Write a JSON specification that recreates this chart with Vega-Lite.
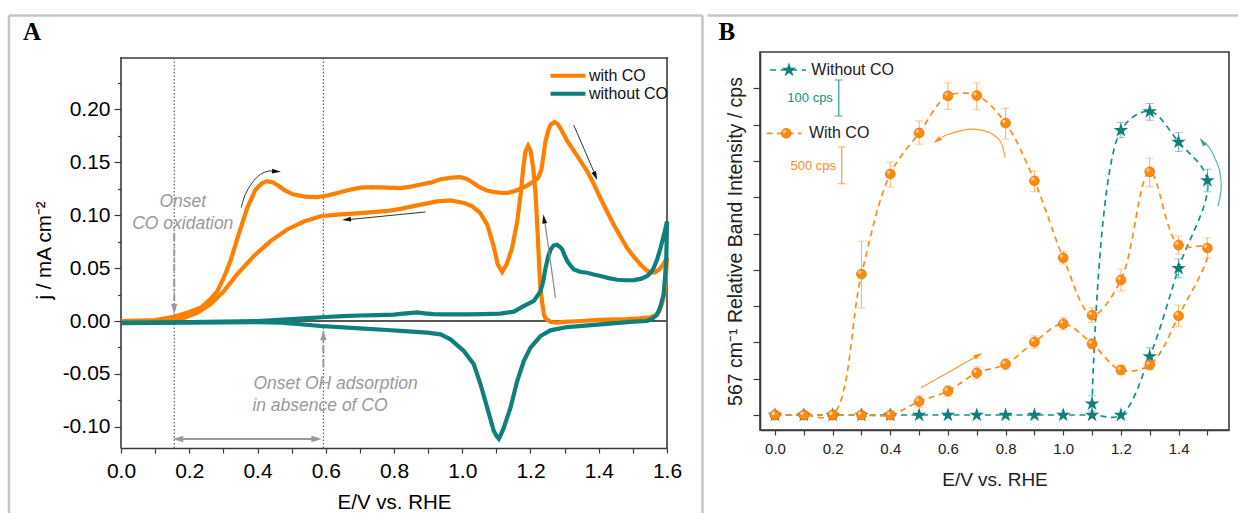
{
"$schema":"https://vega.github.io/schema/vega-lite/v6.json",
"padding":{"left":7,"top":13,"right":0,"bottom":0},
"background":"white",
"config":{
 "font":"Liberation Sans",
 "view":{"stroke":"#3a3a3a","strokeWidth":1.6},
 "axis":{"grid":false,"labelFont":"Liberation Sans","titleFont":"Liberation Sans","titleFontWeight":"normal","domainColor":"#3a3a3a","domainWidth":1.6,"tickColor":"#3a3a3a","tickWidth":1.2,"labelColor":"#000","titleColor":"#000","labelFlush":false,"labelOverlap":false,"labelBound":false}
},
"datasets":{
 "cvo":[{"E":0,"j":0},{"E":0.05,"j":0.0003},{"E":0.1,"j":0.0008},{"E":0.155,"j":0.004},{"E":0.2,"j":0.0085},{"E":0.233,"j":0.0125},{"E":0.26,"j":0.02},{"E":0.282,"j":0.028},{"E":0.3,"j":0.04},{"E":0.321,"j":0.057},{"E":0.345,"j":0.082},{"E":0.37,"j":0.107},{"E":0.394,"j":0.124},{"E":0.412,"j":0.13},{"E":0.428,"j":0.1322},{"E":0.445,"j":0.131},{"E":0.458,"j":0.1285},{"E":0.48,"j":0.1235},{"E":0.506,"j":0.1195},{"E":0.54,"j":0.1175},{"E":0.575,"j":0.117},{"E":0.61,"j":0.119},{"E":0.634,"j":0.121},{"E":0.67,"j":0.124},{"E":0.702,"j":0.126},{"E":0.74,"j":0.1265},{"E":0.78,"j":0.126},{"E":0.819,"j":0.1255},{"E":0.85,"j":0.127},{"E":0.878,"j":0.129},{"E":0.91,"j":0.131},{"E":0.936,"j":0.134},{"E":0.97,"j":0.1355},{"E":0.995,"j":0.136},{"E":1.015,"j":0.134},{"E":1.035,"j":0.13},{"E":1.053,"j":0.126},{"E":1.075,"j":0.123},{"E":1.092,"j":0.122},{"E":1.115,"j":0.121},{"E":1.132,"j":0.121},{"E":1.15,"j":0.1225},{"E":1.171,"j":0.125},{"E":1.19,"j":0.128},{"E":1.21,"j":0.132},{"E":1.222,"j":0.135},{"E":1.232,"j":0.143},{"E":1.244,"j":0.17},{"E":1.252,"j":0.18},{"E":1.259,"j":0.1855},{"E":1.27,"j":0.188},{"E":1.28,"j":0.186},{"E":1.288,"j":0.182},{"E":1.298,"j":0.176},{"E":1.308,"j":0.17},{"E":1.337,"j":0.156},{"E":1.366,"j":0.1415},{"E":1.385,"j":0.13},{"E":1.405,"j":0.116},{"E":1.425,"j":0.103},{"E":1.444,"j":0.091},{"E":1.465,"j":0.079},{"E":1.483,"j":0.069},{"E":1.502,"j":0.061},{"E":1.522,"j":0.0535},{"E":1.54,"j":0.048},{"E":1.552,"j":0.0458},{"E":1.565,"j":0.046},{"E":1.578,"j":0.049},{"E":1.59,"j":0.054},{"E":1.6,"j":0.06},{"E":1.597,"j":0.042},{"E":1.593,"j":0.028},{"E":1.586,"j":0.017},{"E":1.577,"j":0.009},{"E":1.565,"j":0.005},{"E":1.55,"j":0.0035},{"E":1.52,"j":0.0025},{"E":1.48,"j":0.0018},{"E":1.4,"j":0.001},{"E":1.35,"j":0},{"E":1.3,"j":-0.0008},{"E":1.278,"j":-0.0015},{"E":1.26,"j":-0.001},{"E":1.25,"j":0.001},{"E":1.243,"j":0.003},{"E":1.239,"j":0.007},{"E":1.234,"j":0.018},{"E":1.229,"j":0.031},{"E":1.225,"j":0.055},{"E":1.221,"j":0.082},{"E":1.215,"j":0.12},{"E":1.208,"j":0.145},{"E":1.2,"j":0.161},{"E":1.193,"j":0.1655},{"E":1.185,"j":0.16},{"E":1.179,"j":0.145},{"E":1.171,"j":0.1195},{"E":1.161,"j":0.094},{"E":1.146,"j":0.069},{"E":1.13,"j":0.0535},{"E":1.117,"j":0.0465},{"E":1.104,"j":0.0535},{"E":1.091,"j":0.072},{"E":1.073,"j":0.091},{"E":1.053,"j":0.102},{"E":1.029,"j":0.1085},{"E":1.005,"j":0.1115},{"E":0.966,"j":0.114},{"E":0.927,"j":0.113},{"E":0.878,"j":0.11},{"E":0.819,"j":0.106},{"E":0.78,"j":0.104},{"E":0.702,"j":0.102},{"E":0.634,"j":0.1006},{"E":0.585,"j":0.099},{"E":0.536,"j":0.094},{"E":0.487,"j":0.0865},{"E":0.438,"j":0.0755},{"E":0.389,"j":0.0613},{"E":0.34,"j":0.044},{"E":0.301,"j":0.028},{"E":0.262,"j":0.0157},{"E":0.223,"j":0.0078},{"E":0.184,"j":0.003},{"E":0.125,"j":0.0006},{"E":0.05,"j":0},{"E":0,"j":-0.0005}],
 "cvt":[{"E":0,"j":-0.0015},{"E":0.1,"j":-0.0012},{"E":0.2,"j":-0.001},{"E":0.3,"j":-0.0006},{"E":0.4,"j":0},{"E":0.45,"j":0.0008},{"E":0.5,"j":0.0017},{"E":0.55,"j":0.0028},{"E":0.6,"j":0.0038},{"E":0.65,"j":0.0046},{"E":0.7,"j":0.0052},{"E":0.75,"j":0.0056},{"E":0.8,"j":0.006},{"E":0.819,"j":0.0068},{"E":0.845,"j":0.0075},{"E":0.868,"j":0.0082},{"E":0.89,"j":0.0072},{"E":0.917,"j":0.0065},{"E":0.95,"j":0.0063},{"E":1.015,"j":0.0063},{"E":1.06,"j":0.0065},{"E":1.112,"j":0.007},{"E":1.151,"j":0.0088},{"E":1.18,"j":0.014},{"E":1.21,"j":0.019},{"E":1.229,"j":0.028},{"E":1.237,"j":0.037},{"E":1.244,"j":0.05},{"E":1.252,"j":0.061},{"E":1.259,"j":0.0676},{"E":1.268,"j":0.0715},{"E":1.278,"j":0.072},{"E":1.286,"j":0.07},{"E":1.293,"j":0.0676},{"E":1.3,"j":0.062},{"E":1.308,"j":0.0566},{"E":1.318,"j":0.052},{"E":1.327,"j":0.0488},{"E":1.345,"j":0.0465},{"E":1.366,"j":0.0456},{"E":1.385,"j":0.044},{"E":1.405,"j":0.0425},{"E":1.43,"j":0.0405},{"E":1.454,"j":0.039},{"E":1.48,"j":0.0385},{"E":1.503,"j":0.0387},{"E":1.525,"j":0.04},{"E":1.542,"j":0.0425},{"E":1.553,"j":0.046},{"E":1.561,"j":0.05},{"E":1.571,"j":0.058},{"E":1.581,"j":0.069},{"E":1.59,"j":0.08},{"E":1.6,"j":0.094},{"E":1.598,"j":0.06},{"E":1.594,"j":0.04},{"E":1.59,"j":0.025},{"E":1.58,"j":0.013},{"E":1.571,"j":0.006},{"E":1.555,"j":0.002},{"E":1.542,"j":0},{"E":1.503,"j":-0.0005},{"E":1.405,"j":-0.0031},{"E":1.3075,"j":-0.0057},{"E":1.2586,"j":-0.0088},{"E":1.2293,"j":-0.0142},{"E":1.2,"j":-0.0252},{"E":1.1804,"j":-0.0378},{"E":1.161,"j":-0.0567},{"E":1.1414,"j":-0.0819},{"E":1.1218,"j":-0.1008},{"E":1.112,"j":-0.108},{"E":1.1071,"j":-0.1112},{"E":1.101,"j":-0.109},{"E":1.0925,"j":-0.1039},{"E":1.0731,"j":-0.0819},{"E":1.0535,"j":-0.0598},{"E":1.0339,"j":-0.0409},{"E":1.0045,"j":-0.0283},{"E":0.9656,"j":-0.0173},{"E":0.9363,"j":-0.0126},{"E":0.8973,"j":-0.011},{"E":0.819,"j":-0.0094},{"E":0.78,"j":-0.0085},{"E":0.7,"j":-0.0069},{"E":0.585,"j":-0.0047},{"E":0.47,"j":-0.0016},{"E":0.4,"j":-0.001},{"E":0.3,"j":-0.0012},{"E":0.2,"j":-0.0015},{"E":0.1,"j":-0.0017},{"E":0,"j":-0.002}],
 "bo":[{"E":0,"v":0},{"E":0.1,"v":0},{"E":0.2,"v":0},{"E":0.3,"v":0},{"E":0.4,"v":0},{"E":0.5,"v":0.37},{"E":0.6,"v":0.66},{"E":0.7,"v":1.16},{"E":0.8,"v":1.4},{"E":0.9,"v":2.01},{"E":1.0,"v":2.51},{"E":1.1,"v":1.96},{"E":1.2,"v":1.24},{"E":1.3,"v":1.38},{"E":1.4,"v":2.73},{"E":1.5,"v":4.6},{"E":1.4,"v":4.68},{"E":1.3,"v":6.7},{"E":1.2,"v":3.72},{"E":1.1,"v":2.75},{"E":1.0,"v":4.33},{"E":0.9,"v":6.45},{"E":0.8,"v":8.04},{"E":0.7,"v":8.8},{"E":0.6,"v":8.79},{"E":0.5,"v":7.77},{"E":0.4,"v":6.64},{"E":0.3,"v":3.88},{"E":0.2,"v":0},{"E":0.1,"v":0},{"E":0,"v":0}],
 "bt":[{"E":0,"v":0},{"E":0.1,"v":0},{"E":0.2,"v":0},{"E":0.3,"v":0},{"E":0.4,"v":0},{"E":0.5,"v":0},{"E":0.6,"v":0},{"E":0.7,"v":0},{"E":0.8,"v":0},{"E":0.9,"v":0},{"E":1.0,"v":0},{"E":1.1,"v":0},{"E":1.2,"v":0},{"E":1.3,"v":1.61},{"E":1.4,"v":4.04},{"E":1.5,"v":6.46},{"E":1.4,"v":7.52},{"E":1.3,"v":8.36},{"E":1.2,"v":7.84},{"E":1.1,"v":0.31}],
 "eo":[{"E":0.5,"lo":0.2,"hi":0.53},{"E":0.6,"lo":0.52,"hi":0.8},{"E":0.7,"lo":0.99,"hi":1.33},{"E":0.8,"lo":1.25,"hi":1.55},{"E":0.9,"lo":1.84,"hi":2.18},{"E":1.0,"lo":2.34,"hi":2.68},{"E":1.1,"lo":1.83,"hi":2.09},{"E":1.2,"lo":1.11,"hi":1.37},{"E":1.3,"lo":1.25,"hi":1.51},{"E":1.4,"lo":2.43,"hi":3.03},{"E":1.5,"lo":4.32,"hi":4.88},{"E":1.4,"lo":4.43,"hi":4.93},{"E":1.3,"lo":6.29,"hi":7.08},{"E":1.2,"lo":3.42,"hi":4.02},{"E":1.1,"lo":2.55,"hi":2.95},{"E":1.0,"lo":4.16,"hi":4.5},{"E":0.9,"lo":6.15,"hi":6.72},{"E":0.8,"lo":7.6,"hi":8.45},{"E":0.7,"lo":8.42,"hi":9.15},{"E":0.6,"lo":8.42,"hi":9.15},{"E":0.5,"lo":7.46,"hi":8.1},{"E":0.4,"lo":6.28,"hi":6.97},{"E":0.3,"lo":2.95,"hi":4.79}],
 "et":[{"E":1.1,"lo":0.11,"hi":0.53},{"E":1.2,"lo":7.64,"hi":8.06},{"E":1.3,"lo":8.12,"hi":8.58},{"E":1.4,"lo":7.26,"hi":7.78},{"E":1.5,"lo":6.15,"hi":6.77},{"E":1.4,"lo":3.78,"hi":4.3},{"E":1.3,"lo":1.37,"hi":1.85}]
},
"spacing":1,
"hconcat":[
{
 "width":546,"height":396,
 "view":{"stroke":null},
 "encoding":{
  "x":{"field":"E","type":"quantitative","scale":{"domain":[0,1.6],"nice":false,"zero":false},
   "axis":{"values":[0,0.1,0.2,0.3,0.4,0.5,0.6,0.7,0.8,0.9,1.0,1.1,1.2,1.3,1.4,1.5,1.6],"labelExpr":"round(datum.value*10) % 2 == 0 ? format(datum.value, '.1f') : ''","tickSize":5,"labelFontSize":21,"labelPadding":7,"title":"E/V vs. RHE","titleFontSize":20.5,"titlePadding":11}},
  "y":{"field":"j","type":"quantitative","scale":{"domain":[-0.12,0.2542],"nice":false,"zero":false},
   "axis":{"values":[-0.1,-0.075,-0.05,-0.025,0,0.025,0.05,0.075,0.1,0.125,0.15,0.175,0.2,0.225],"labelExpr":"abs(datum.value*20 - round(datum.value*20)) < 0.001 ? replace(format(datum.value, '.2f'), '−', '-') : ''","tickSize":{"condition":{"test":"abs(datum.value*20 - round(datum.value*20)) < 0.001","value":7},"value":3.5},"domain":false,"labelFontSize":21,"labelPadding":4,"title":"j / mA cm⁻²","titleFontSize":20.5,"titlePadding":8}}
 },
 "layer":[
  {"data":{"values":[{"E":-0.3282,"E2":-0.3282,"j":0.2887,"j2":-0.185},{"E":-0.3282,"E2":1.704,"j":0.2887,"j2":0.2887},{"E":1.704,"E2":1.704,"j":0.2887,"j2":-0.185}]},
   "mark":{"type":"rule","color":"#c6c6c6","strokeWidth":2.5,"clip":false},
   "encoding":{"x2":{"field":"E2"},"y2":{"field":"j2"}}},
  {"data":{"values":[{"E":0,"E2":0,"j":-0.12,"j2":0.2485},{"E":0,"E2":1.6,"j":0.2485,"j2":0.2485},{"E":1.6,"E2":1.6,"j":-0.12,"j2":0.2485}]},
   "mark":{"type":"rule","color":"#3a3a3a","strokeWidth":1.6,"strokeCap":"square","clip":false},
   "encoding":{"x2":{"field":"E2"},"y2":{"field":"j2"}}},
  {"data":{"values":[{"E":0.156,"E2":0.156,"j":-0.12,"j2":0.2485},{"E":0.593,"E2":0.593,"j":-0.12,"j2":0.2485}]},
   "mark":{"type":"rule","color":"#444","strokeWidth":1,"strokeDash":[1.5,2]},
   "encoding":{"x2":{"field":"E2"},"y2":{"field":"j2"}}},
  {"data":{"values":[{"E":0,"E2":1.6,"j":0}]},
   "mark":{"type":"rule","color":"#555","strokeWidth":2},
   "encoding":{"x2":{"field":"E2"}}},
  {"data":{"name":"cvo"},
   "mark":{"type":"line","color":"#ff8000","strokeWidth":4.2},
   "encoding":{"order":{"value":null}}},
  {"data":{"name":"cvt"},
   "mark":{"type":"line","color":"#0e7f7a","strokeWidth":4.2},
   "encoding":{"order":{"value":null}}},
  {"data":{"values":[{"k":"co","E":0.156,"j":0.0819},{"k":"co","E":0.156,"j":0.0142},{"k":"oh","E":0.593,"j":-0.0435},{"k":"oh","E":0.593,"j":-0.017}]},
   "mark":{"type":"line","color":"#9a9a9a","strokeWidth":2,"strokeDash":[7,3,2,3]},
   "encoding":{"detail":{"field":"k"},"order":{"value":null}}},
  {"data":{"values":[{"E":0.175,"j":-0.1115},{"E":0.565,"j":-0.1115}]},
   "mark":{"type":"line","color":"#9a9a9a","strokeWidth":2},
   "encoding":{"order":{"value":null}}},
  {"data":{"values":[{"E":0.156,"j":0.0113,"dir":180},{"E":0.593,"j":-0.0132,"dir":0},{"E":0.167,"j":-0.1115,"dir":270},{"E":0.573,"j":-0.1115,"dir":90}]},
   "mark":{"type":"point","shape":"M0,-1L0.6,1L-0.6,1Z","filled":true,"color":"#9a9a9a","size":110,"opacity":1},
   "encoding":{"angle":{"field":"dir","type":"quantitative","scale":null}}},
  {"data":{"values":[{"k":"a","E":0.8923,"j":0.103},{"k":"a","E":0.6725,"j":0.096},{"k":"b","E":1.3266,"j":0.1852},{"k":"b","E":1.3875,"j":0.1398}]},
   "mark":{"type":"line","color":"#333","strokeWidth":1},
   "encoding":{"detail":{"field":"k"},"order":{"value":null}}},
  {"data":{"values":[{"E":0.3522,"j":0.1071},{"E":0.3648,"j":0.12},{"E":0.3845,"j":0.1307},{"E":0.4088,"j":0.1386},{"E":0.4331,"j":0.1417},{"E":0.444,"j":0.1417}]},
   "mark":{"type":"line","color":"#333","strokeWidth":1,"interpolate":"catmull-rom"},
   "encoding":{"order":{"value":null}}},
  {"data":{"values":[{"E":1.2733,"j":0.022},{"E":1.2425,"j":0.0926}]},
   "mark":{"type":"line","color":"#888","strokeWidth":1.2},
   "encoding":{"order":{"value":null}}},
  {"data":{"values":[{"E":0.4557,"j":0.1413,"dir":95},{"E":0.6608,"j":0.0959,"dir":265},{"E":1.3905,"j":0.137,"dir":157},{"E":1.2396,"j":0.0964,"dir":352}]},
   "mark":{"type":"point","shape":"M0,-1L0.55,1L-0.55,1Z","filled":true,"color":"#111","size":80,"opacity":1},
   "encoding":{"angle":{"field":"dir","type":"quantitative","scale":null}}},
  {"data":{"values":[{"E":0.181,"j":0.1077,"t":"Onset"},{"E":0.181,"j":0.0867,"t":"CO oxidation"}]},
   "mark":{"type":"text","align":"center","baseline":"alphabetic","fontStyle":"italic","fontSize":17.5,"color":"#9a9a9a"},
   "encoding":{"text":{"field":"t"}}},
  {"data":{"values":[{"E":0.388,"j":-0.0647,"t":"Onset OH adsorption"},{"E":0.385,"j":-0.0846,"t":"in absence of CO"}]},
   "mark":{"type":"text","align":"left","baseline":"alphabetic","fontStyle":"italic","fontSize":17.5,"color":"#9a9a9a"},
   "encoding":{"text":{"field":"t"}}},
  {"data":{"values":[{"E":1.2586,"E2":1.3612,"j":0.2318}]},
   "mark":{"type":"rule","color":"#ff8000","strokeWidth":4},
   "encoding":{"x2":{"field":"E2"}}},
  {"data":{"values":[{"E":1.2586,"E2":1.3612,"j":0.2148}]},
   "mark":{"type":"rule","color":"#0e7f7a","strokeWidth":4},
   "encoding":{"x2":{"field":"E2"}}},
  {"data":{"values":[{"E":1.3711,"j":0.2318,"t":"with CO"},{"E":1.3711,"j":0.2148,"t":"without CO"}]},
   "mark":{"type":"text","align":"left","baseline":"middle","fontSize":16,"color":"#111"},
   "encoding":{"text":{"field":"t"}}},
  {"data":{"values":[{"E":-0.2608,"j":0.2655,"t":"A"}]},
   "mark":{"type":"text","align":"center","baseline":"alphabetic","font":"Liberation Serif","fontWeight":"bold","fontSize":25,"color":"#000","clip":false},
   "encoding":{"text":{"field":"t"}}}
 ]
},
{
 "width":469,"height":378,
 "encoding":{
  "x":{"field":"E","type":"quantitative","scale":{"domain":[-0.052,1.575],"nice":false,"zero":false},
   "axis":{"values":[0,0.1,0.2,0.3,0.4,0.5,0.6,0.7,0.8,0.9,1.0,1.1,1.2,1.3,1.4,1.5],"labelExpr":"round(datum.value*10) % 2 == 0 && datum.value < 1.45 ? format(datum.value, '.1f') : ''","tickSize":5,"labelFontSize":15,"labelColor":"#222","labelPadding":6,"title":"E/V vs. RHE","titleFontSize":19,"titleColor":"#222","titlePadding":14}},
  "y":{"field":"v","type":"quantitative","scale":{"domain":[-0.413,10],"nice":false,"zero":false},
   "axis":{"values":[0,1,2,3,4,5,6,7,8,9],"labels":false,"tickSize":7,"title":"567 cm⁻¹ Relative Band Intensity / cps","titleFontSize":19.5,"titleColor":"#222","titlePadding":7}}
 },
 "layer":[
  {"data":{"values":[{"E":-0.2341,"E2":1.62,"v":11.006}]},
   "mark":{"type":"rule","color":"#c6c6c6","strokeWidth":2.5,"clip":false},
   "encoding":{"x2":{"field":"E2"}}},
  {"data":{"name":"bt"},
   "mark":{"type":"line","color":"#139089","strokeWidth":1.7,"strokeDash":[6,4.5],"interpolate":"catmull-rom"},
   "encoding":{"order":{"value":null}}},
  {"data":{"name":"et"},
   "mark":{"type":"rule","color":"#5fb0ab","strokeWidth":1},
   "encoding":{"y":{"field":"lo","type":"quantitative"},"y2":{"field":"hi"}}},
  {"data":{"name":"et"},
   "mark":{"type":"tick","orient":"horizontal","size":8,"thickness":1,"color":"#5fb0ab"},
   "encoding":{"y":{"field":"lo","type":"quantitative"}}},
  {"data":{"name":"et"},
   "mark":{"type":"tick","orient":"horizontal","size":8,"thickness":1,"color":"#5fb0ab"},
   "encoding":{"y":{"field":"hi","type":"quantitative"}}},
  {"data":{"name":"bt"},
   "mark":{"type":"point","shape":"M0,-1L0.2245,-0.309L0.951,-0.309L0.3633,0.118L0.588,0.809L0,0.382L-0.588,0.809L-0.3633,0.118L-0.951,-0.309L-0.2245,-0.309Z","filled":true,"size":235,"color":"#0e7f7a","opacity":1},
   "encoding":{}},
  {"data":{"name":"bo"},
   "mark":{"type":"line","color":"#ff8c1a","strokeWidth":1.7,"strokeDash":[6,4.5],"interpolate":"catmull-rom"},
   "encoding":{"order":{"value":null}}},
  {"data":{"name":"eo"},
   "mark":{"type":"rule","color":"#ffb066","strokeWidth":1},
   "encoding":{"y":{"field":"lo","type":"quantitative"},"y2":{"field":"hi"}}},
  {"data":{"name":"eo"},
   "mark":{"type":"tick","orient":"horizontal","size":8,"thickness":1,"color":"#ffb066"},
   "encoding":{"y":{"field":"lo","type":"quantitative"}}},
  {"data":{"name":"eo"},
   "mark":{"type":"tick","orient":"horizontal","size":8,"thickness":1,"color":"#ffb066"},
   "encoding":{"y":{"field":"hi","type":"quantitative"}}},
  {"data":{"name":"bo"},
   "mark":{"type":"point","shape":"circle","filled":true,"size":95,"color":"#ff8a12","stroke":"#ee7400","strokeWidth":0.8,"opacity":1},
   "encoding":{}},
  {"data":{"name":"bo"},
   "mark":{"type":"point","shape":"circle","filled":true,"size":12,"color":"#ffd3a0","opacity":0.9,"xOffset":-1.8,"yOffset":-1.8},
   "encoding":{}},
  {"data":{"values":[{"E":-0.017,"E2":0.108,"v":9.504}]},
   "mark":{"type":"rule","color":"#139089","strokeWidth":1.7,"strokeDash":[6,4.5]},
   "encoding":{"x2":{"field":"E2"}}},
  {"data":{"values":[{"E":0.0486,"v":9.504}]},
   "mark":{"type":"point","shape":"M0,-1L0.2245,-0.309L0.951,-0.309L0.3633,0.118L0.588,0.809L0,0.382L-0.588,0.809L-0.3633,0.118L-0.951,-0.309L-0.2245,-0.309Z","filled":true,"size":235,"color":"#0e7f7a","opacity":1},
   "encoding":{}},
  {"data":{"values":[{"E":-0.0295,"E2":0.092,"v":7.76}]},
   "mark":{"type":"rule","color":"#ff8c1a","strokeWidth":1.7,"strokeDash":[6,4.5]},
   "encoding":{"x2":{"field":"E2"}}},
  {"data":{"values":[{"E":0.039,"v":7.76}]},
   "mark":{"type":"point","shape":"circle","filled":true,"size":95,"color":"#ff8a12","stroke":"#ee7400","strokeWidth":0.8,"opacity":1},
   "encoding":{}},
  {"data":{"values":[{"E":0.039,"v":7.76}]},
   "mark":{"type":"point","shape":"circle","filled":true,"size":12,"color":"#ffd3a0","opacity":0.9,"xOffset":-1.8,"yOffset":-1.8},
   "encoding":{}},
  {"data":{"values":[{"E":0.126,"v":9.504,"t":"Without CO"},{"E":0.1176,"v":7.76,"t":"With CO"}]},
   "mark":{"type":"text","align":"left","baseline":"middle","fontSize":16,"color":"#222"},
   "encoding":{"text":{"field":"t"}}},
  {"data":{"values":[{"E":0.2213,"lo":8.237,"hi":9.229}]},
   "mark":{"type":"rule","color":"#2a9a94","strokeWidth":1.2},
   "encoding":{"y":{"field":"lo","type":"quantitative"},"y2":{"field":"hi"}}},
  {"data":{"values":[{"E":0.2213,"lo":8.237,"hi":9.229}]},
   "mark":{"type":"tick","orient":"horizontal","size":8,"thickness":1.2,"color":"#2a9a94"},
   "encoding":{"y":{"field":"lo","type":"quantitative"}}},
  {"data":{"values":[{"E":0.2213,"lo":8.237,"hi":9.229}]},
   "mark":{"type":"tick","orient":"horizontal","size":8,"thickness":1.2,"color":"#2a9a94"},
   "encoding":{"y":{"field":"hi","type":"quantitative"}}},
  {"data":{"values":[{"E":0.2316,"lo":6.372,"hi":7.383}]},
   "mark":{"type":"rule","color":"#f59a40","strokeWidth":1.2},
   "encoding":{"y":{"field":"lo","type":"quantitative"},"y2":{"field":"hi"}}},
  {"data":{"values":[{"E":0.2316,"lo":6.372,"hi":7.383}]},
   "mark":{"type":"tick","orient":"horizontal","size":8,"thickness":1.2,"color":"#f59a40"},
   "encoding":{"y":{"field":"lo","type":"quantitative"}}},
  {"data":{"values":[{"E":0.2316,"lo":6.372,"hi":7.383}]},
   "mark":{"type":"tick","orient":"horizontal","size":8,"thickness":1.2,"color":"#f59a40"},
   "encoding":{"y":{"field":"hi","type":"quantitative"}}},
  {"data":{"values":[{"E":0.2008,"v":8.72,"t":"100 cps"}]},
   "mark":{"type":"text","align":"right","baseline":"middle","fontSize":13,"color":"#16908a"},
   "encoding":{"text":{"field":"t"}}},
  {"data":{"values":[{"E":0.2116,"v":6.86,"t":"500 cps"}]},
   "mark":{"type":"text","align":"right","baseline":"middle","fontSize":13,"color":"#f5902a"},
   "encoding":{"text":{"field":"t"}}},
  {"data":{"values":[{"E":0.7985,"v":7.088},{"E":0.7808,"v":7.548},{"E":0.7451,"v":7.777},{"E":0.6972,"v":7.871},{"E":0.6497,"v":7.843},{"E":0.6021,"v":7.733},{"E":0.5775,"v":7.645}]},
   "mark":{"type":"line","color":"#ff9933","strokeWidth":1.2,"interpolate":"catmull-rom"},
   "encoding":{"order":{"value":null}}},
  {"data":{"values":[{"E":0.5068,"v":0.752},{"E":0.6954,"v":1.598}]},
   "mark":{"type":"line","color":"#ff9933","strokeWidth":1.2},
   "encoding":{"order":{"value":null}}},
  {"data":{"values":[{"E":0.5619,"v":7.562,"dir":236},{"E":0.7058,"v":1.647,"dir":60}]},
   "mark":{"type":"point","shape":"M0,-1L0.55,1L-0.55,1Z","filled":true,"color":"#ff8c1a","size":80,"opacity":1},
   "encoding":{"angle":{"field":"dir","type":"quantitative","scale":null}}},
  {"data":{"values":[{"E":1.537,"v":5.758},{"E":1.548,"v":6.262},{"E":1.5425,"v":6.722},{"E":1.5255,"v":7.088},{"E":1.5026,"v":7.41},{"E":1.49,"v":7.49}]},
   "mark":{"type":"line","color":"#5fb0ab","strokeWidth":1.2,"interpolate":"catmull-rom"},
   "encoding":{"order":{"value":null}}},
  {"data":{"values":[{"E":1.4828,"v":7.534,"dir":324}]},
   "mark":{"type":"point","shape":"M0,-1L0.55,1L-0.55,1Z","filled":true,"color":"#3f9f99","size":80,"opacity":1},
   "encoding":{"angle":{"field":"dir","type":"quantitative","scale":null}}},
  {"data":{"values":[{"E":-0.196,"v":10.33,"t":"B"}]},
   "mark":{"type":"text","align":"left","baseline":"alphabetic","font":"Liberation Serif","fontWeight":"bold","fontSize":25,"color":"#000","clip":false},
   "encoding":{"text":{"field":"t"}}}
 ]
}
]
}
